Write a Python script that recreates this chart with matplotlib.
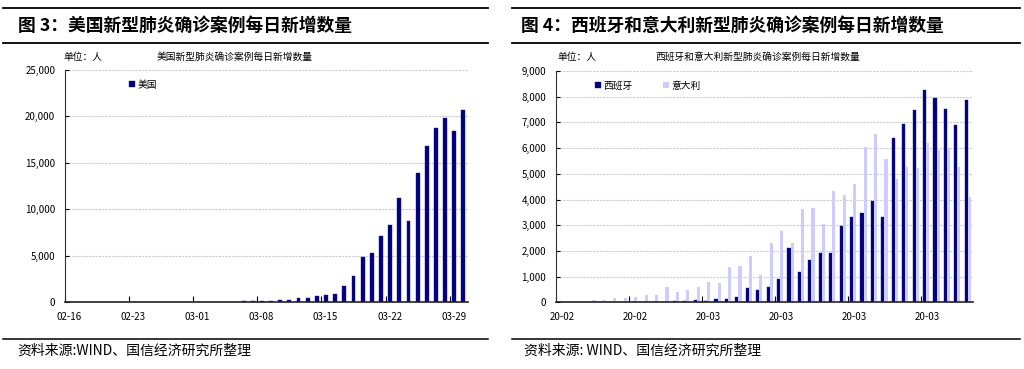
import numpy as np
import pandas as pd
import matplotlib
matplotlib.use("Agg")
import matplotlib.pyplot as plt
import matplotlib.dates as mdates
import matplotlib.transforms as mtransforms
from matplotlib.lines import Line2D

plt.rcParams['font.family'] = ['Noto Sans CJK SC', 'DejaVu Sans']

# 数据
# ─────────────────────────────────────────────
us_dates = pd.date_range("2020-02-16", "2020-03-30")
us_new = [0, 0, 0, 0, 0, 0, 0, 0, 0, 0, 0, 0, 0, 0,
          8, 20, 24, 33, 52, 60, 85, 100, 90, 250, 250, 420, 480, 650, 760,
          880, 1760, 2850, 4815, 5310, 7110, 8300, 11170, 8760, 13930, 16810,
          18780, 19790, 18430, 20700]

eu_dates = pd.date_range("2020-02-20", "2020-03-30")
spain_new = [0, 0, 0, 0, 0, 4, 8, 10, 15, 15,
             30, 45, 65, 90, 65, 130, 130, 190, 570, 490, 610, 900, 2100, 1180,
             1650, 1935, 1910, 2950, 3320, 3490, 3950, 3310, 6390, 6935, 7480,
             8270, 7950, 7530, 6910, 7860]
italy_new = [0, 15, 60, 80, 100, 150, 180, 220, 270, 270,
             610, 390, 480, 610, 800, 770, 1360, 1430, 1800, 1080, 2320, 2790,
             2320, 3620, 3675, 3050, 4320, 4190, 4600, 6030, 6560, 5580, 4790,
             5260, 5210, 6210, 5910, 6000, 5250, 4080]

us_ticks = pd.date_range("2020-02-16", "2020-03-29", freq="7D")
eu_ticks = pd.date_range("2020-02-20", "2020-03-26", freq="7D")

DARK = "#000080"
LIGHT = "#ccccff"


def style_axes(ax, ymax, ystep, xoff_px):
    for s in ["top", "right"]:
        ax.spines[s].set_visible(False)
    ax.spines["left"].set_color("#333333")
    ax.spines["bottom"].set_color("#222222")
    ax.spines["bottom"].set_linewidth(1.2)
    ax.set_ylim(0, ymax)
    ax.set_yticks(np.arange(0, ymax + 1, ystep))
    ax.yaxis.set_major_formatter(matplotlib.ticker.FuncFormatter(lambda v, p: f"{int(v):,}"))
    ax.grid(axis="y", color="#cccccc", linestyle=(0, (2, 1)), linewidth=0.8)
    ax.set_axisbelow(True)
    ax.tick_params(axis="y", direction="in", length=3, labelsize=7, pad=7)
    ax.tick_params(axis="x", direction="in", length=4, labelsize=7, pad=7)
    # etiquetas un poco corridas a la derecha como en el original
    off = mtransforms.ScaledTranslation(xoff_px / 100, 0, ax.figure.dpi_scale_trans)
    for lab in ax.get_xticklabels():
        lab.set_transform(lab.get_transform() + off)


fig = plt.figure(figsize=(10.24, 3.69), dpi=100)

# 图 3: 美国
# ─────────────────────────────────────────────
ax1 = fig.add_axes([65 / 1024, 1 - 302 / 369, 403 / 1024, 232 / 369])
x_us = mdates.date2num(us_dates) + 0.5
ax1.bar(x_us, us_new, width=0.42, color=DARK, edgecolor="#20208a", linewidth=0.3, label="美国")
ax1.set_xlim(mdates.date2num(pd.Timestamp("2020-02-16")), mdates.date2num(pd.Timestamp("2020-03-31")))
ax1.set_xticks(mdates.date2num(us_ticks))
ax1.xaxis.set_major_formatter(mdates.DateFormatter("%m-%d"))
style_axes(ax1, 25000, 5000, 4)
ax1.legend(loc="upper left", bbox_to_anchor=(0.15, 0.975), frameon=False, fontsize=7,
           handlelength=0.6, handleheight=0.6, handletextpad=0.2, borderaxespad=0)

# 图 4: 西班牙和意大利
# ─────────────────────────────────────────────
ax2 = fig.add_axes([556 / 1024, 1 - 302.3 / 369, 417 / 1024, 231.3 / 369])
x_eu = mdates.date2num(eu_dates) + 0.5
ax2.bar(x_eu - 0.15, spain_new, width=0.3, color=DARK, edgecolor="#20208a", linewidth=0.3, label="西班牙")
ax2.bar(x_eu + 0.15, italy_new, width=0.3, color=LIGHT, linewidth=0, label="意大利")
ax2.set_xlim(mdates.date2num(pd.Timestamp("2020-02-20")), mdates.date2num(pd.Timestamp("2020-03-31")))
ax2.set_xticks(mdates.date2num(eu_ticks))
ax2.xaxis.set_major_formatter(mdates.DateFormatter("%y-%m"))
style_axes(ax2, 9000, 1000, 6)
ax2.legend(loc="upper left", bbox_to_anchor=(0.085, 0.975), ncol=2, frameon=False, fontsize=7,
           handlelength=0.6, handleheight=0.6, handletextpad=0.2, columnspacing=3.2,
           borderaxespad=0)

# 标题, 分隔线, 来源
# ─────────────────────────────────────────────
W, H = 1024, 369


def hline(x0, x1, y, lw=1.3):
    fig.add_artist(Line2D([x0 / W, x1 / W], [1 - y / H, 1 - y / H], color="black", lw=lw))


for (x0, x1) in [(3, 488), (512, 1020)]:
    hline(x0, x1, 7.5)
    hline(x0, x1, 43)
    hline(x0, x1, 339, lw=1.1)

fig.text(18 / W, 1 - 25.5 / H, "图 3：美国新型肺炎确诊案例每日新增数量",
         fontsize=12.8, fontweight="bold", va="center", ha="left")
fig.text(521 / W, 1 - 25.5 / H, "图 4：西班牙和意大利新型肺炎确诊案例每日新增数量",
         fontsize=12.8, fontweight="bold", va="center", ha="left")

fig.text(63 / W, 1 - 57 / H, "单位：人", fontsize=7, va="center", ha="left")
fig.text(157 / W, 1 - 57 / H, "美国新型肺炎确诊案例每日新增数量", fontsize=7, va="center", ha="left")
fig.text(557 / W, 1 - 57 / H, "单位：人", fontsize=7, va="center", ha="left")
fig.text(655 / W, 1 - 57 / H, "西班牙和意大利新型肺炎确诊案例每日新增数量", fontsize=7, va="center", ha="left")

fig.text(17 / W, 1 - 351 / H, "资料来源:WIND、国信经济研究所整理", fontsize=10, va="center", ha="left")
fig.text(524 / W, 1 - 351 / H, "资料来源: WIND、国信经济研究所整理", fontsize=10, va="center", ha="left")

fig.savefig("out.png", dpi=100)
